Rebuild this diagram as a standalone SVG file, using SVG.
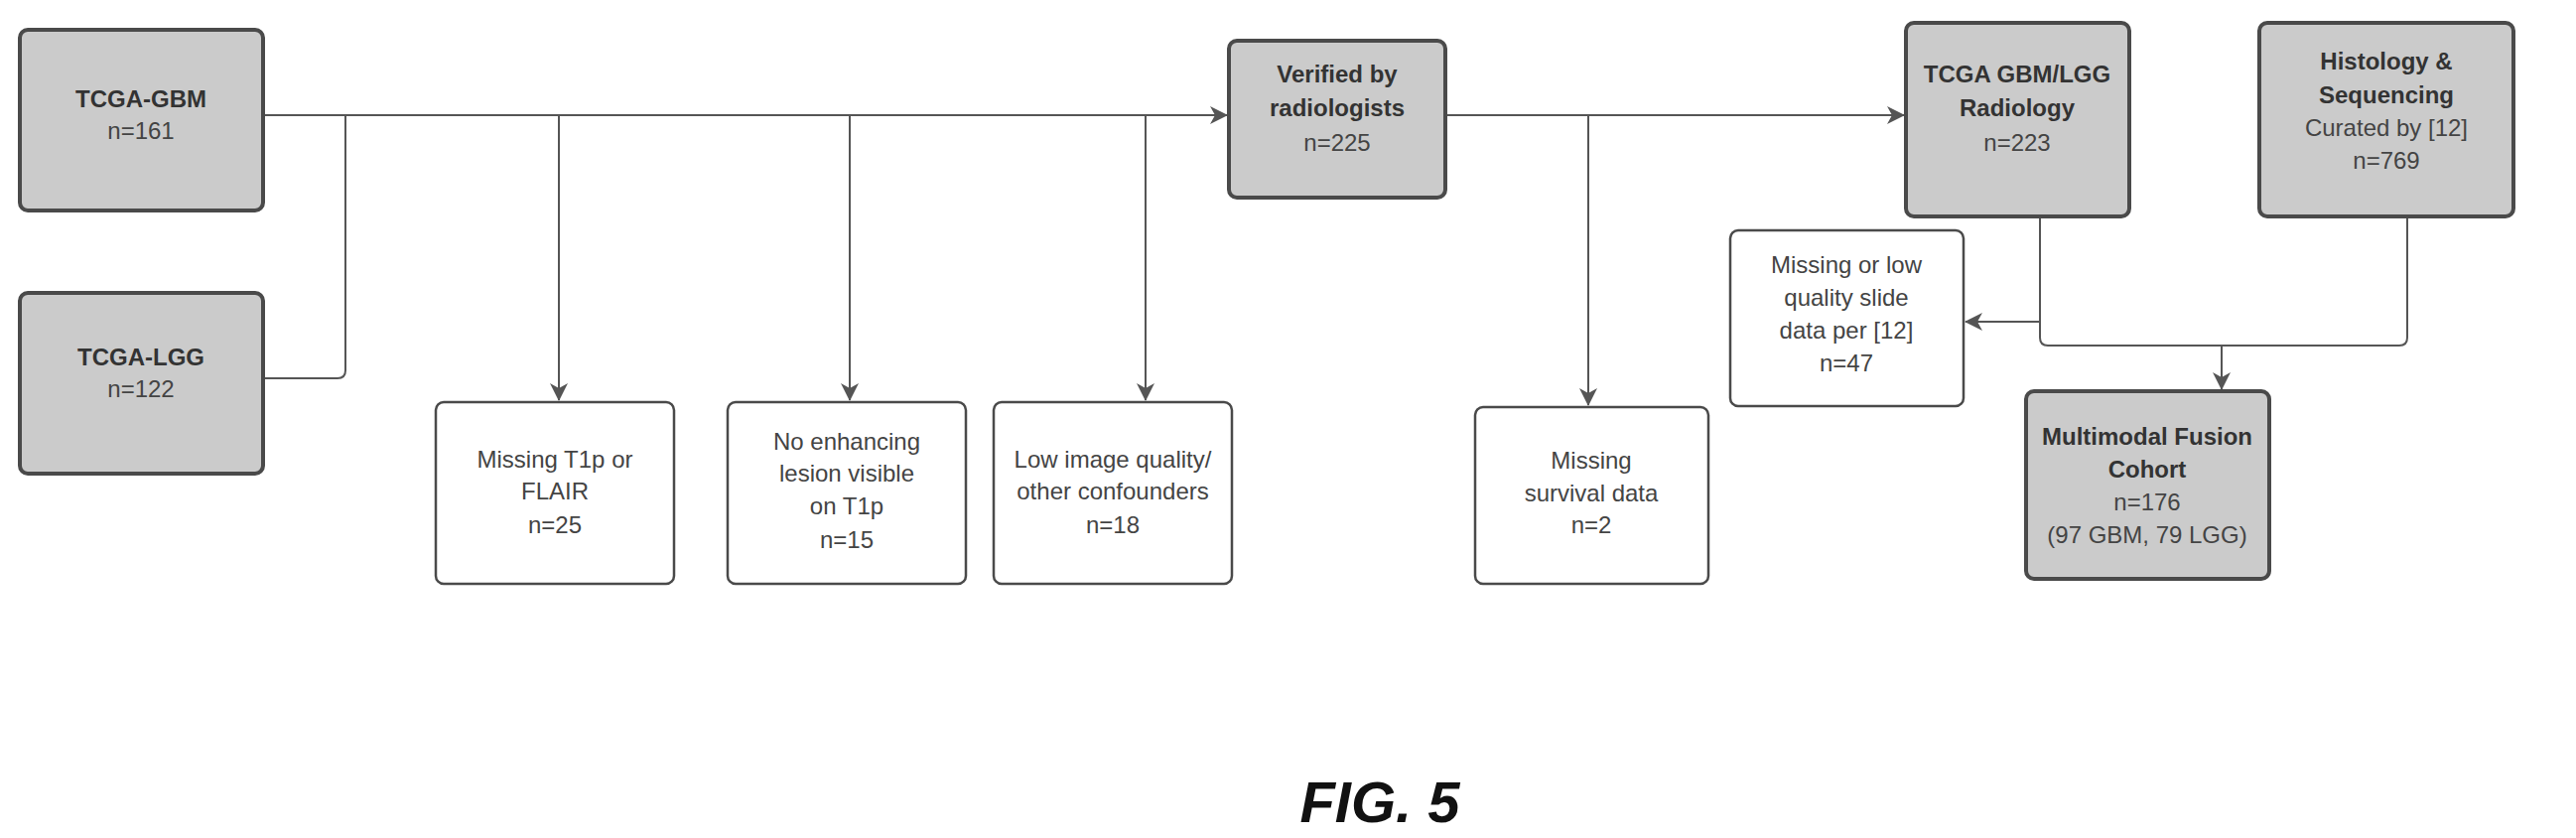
<svg xmlns="http://www.w3.org/2000/svg" width="2595" height="844" viewBox="0 0 2595 844">
<style>
.g{fill:#cbcbcb;stroke:#4a4a4a;stroke-width:4}
.w{fill:#fff;stroke:#4a4a4a;stroke-width:2.5}
text{font-family:"Liberation Sans",Arial,sans-serif;font-size:24px;text-anchor:middle;fill:#444}
.b{font-weight:bold;fill:#333}
.c{fill:none;stroke:#555;stroke-width:2}
</style>
<defs><marker id="a" markerWidth="10" markerHeight="10" refX="9" refY="5" orient="auto" markerUnits="userSpaceOnUse" viewBox="0 0 10 10"><path d="M0,0L10,5L0,10L3,5Z" fill="#555"/></marker>
<marker id="m" markerWidth="18" markerHeight="18" refX="17" refY="9" orient="auto" markerUnits="userSpaceOnUse" viewBox="0 0 18 18"><path d="M0,0L18,9L0,18L5,9Z" fill="#555"/></marker></defs>
<rect width="2595" height="844" fill="#fff"/>
<g id="connectors">
<path class="c" d="M265,116H1236" marker-end="url(#m)"/>
<path class="c" d="M265,381H340Q348,381 348,373V116"/>
<path class="c" d="M563,116V403" marker-end="url(#m)"/>
<path class="c" d="M856,116V403" marker-end="url(#m)"/>
<path class="c" d="M1154,116V403" marker-end="url(#m)"/>
<path class="c" d="M1456,116H1918" marker-end="url(#m)"/>
<path class="c" d="M1600,116V408" marker-end="url(#m)"/>
<path class="c" d="M2055,218V340Q2055,348 2063,348H2417Q2425,348 2425,340V218"/>
<path class="c" d="M2055,324H1980" marker-end="url(#m)"/>
<path class="c" d="M2238,348V392" marker-end="url(#m)"/>
</g>
<g id="gbm"><rect class="g" x="20" y="30" width="245" height="182" rx="8"/><text class="b" x="142" y="108">TCGA-GBM</text><text x="142" y="140">n=161</text></g>
<g id="lgg"><rect class="g" x="20" y="295" width="245" height="182" rx="8"/><text class="b" x="142" y="368">TCGA-LGG</text><text x="142" y="400">n=122</text></g>
<g id="t1p"><rect class="w" x="439" y="405" width="240" height="183" rx="8"/><text x="559" y="471">Missing T1p or</text><text x="559" y="503">FLAIR</text><text x="559" y="537">n=25</text></g>
<g id="enh"><rect class="w" x="733" y="405" width="240" height="183" rx="8"/><text x="853" y="453">No enhancing</text><text x="853" y="485">lesion visible</text><text x="853" y="518">on T1p</text><text x="853" y="552">n=15</text></g>
<g id="low"><rect class="w" x="1001" y="405" width="240" height="183" rx="8"/><text x="1121" y="471">Low image quality/</text><text x="1121" y="503">other confounders</text><text x="1121" y="537">n=18</text></g>
<g id="ver"><rect class="g" x="1238" y="41" width="218" height="158" rx="8"/><text class="b" x="1347" y="83">Verified by</text><text class="b" x="1347" y="117">radiologists</text><text x="1347" y="152">n=225</text></g>
<g id="surv"><rect class="w" x="1486" y="410" width="235" height="178" rx="8"/><text x="1603" y="472">Missing</text><text x="1603" y="505">survival data</text><text x="1603" y="537">n=2</text></g>
<g id="rad"><rect class="g" x="1920" y="23" width="225" height="195" rx="8"/><text class="b" x="2032" y="83">TCGA GBM/LGG</text><text class="b" x="2032" y="117">Radiology</text><text x="2032" y="152">n=223</text></g>
<g id="hist"><rect class="g" x="2276" y="23" width="256" height="195" rx="8"/><text class="b" x="2404" y="70">Histology &amp;</text><text class="b" x="2404" y="104">Sequencing</text><text x="2404" y="137">Curated by [12]</text><text x="2404" y="170">n=769</text></g>
<g id="slide"><rect class="w" x="1743" y="232" width="235" height="177" rx="8"/><text x="1860" y="275">Missing or low</text><text x="1860" y="308">quality slide</text><text x="1860" y="341">data per [12]</text><text x="1860" y="374">n=47</text></g>
<g id="fusion"><rect class="g" x="2041" y="394" width="245" height="189" rx="8"/><text class="b" x="2163" y="448">Multimodal Fusion</text><text class="b" x="2163" y="481">Cohort</text><text x="2163" y="514">n=176</text><text x="2163" y="547">(97 GBM, 79 LGG)</text></g>
<text x="1390" y="828" style="font-size:58px;font-weight:bold;font-style:italic;fill:#111">FIG. 5</text>
</svg>
